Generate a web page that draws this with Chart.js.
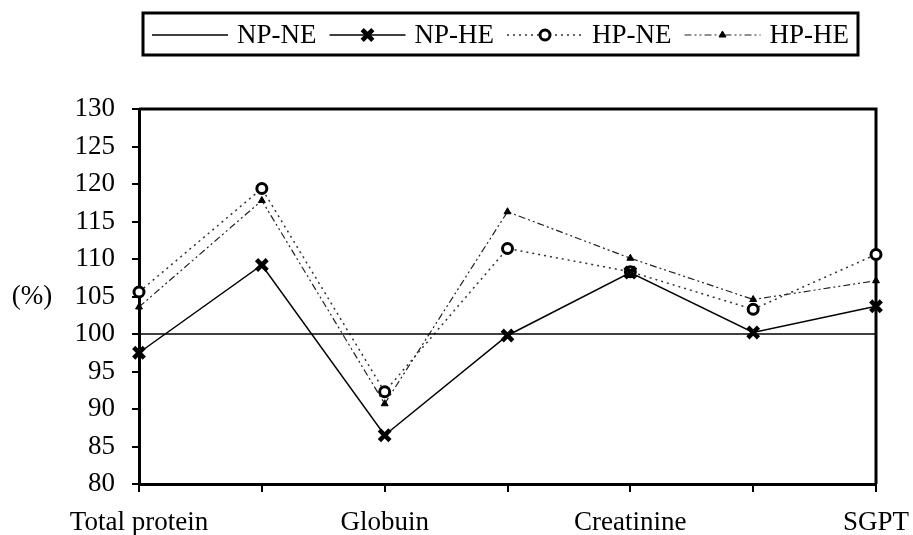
<!DOCTYPE html>
<html><head><meta charset="utf-8">
<script src="https://cdn.jsdelivr.net/npm/chart.js@4.4.1/dist/chart.umd.min.js"></script>
<style>html,body{margin:0;padding:0;background:#fff}#wrap{width:913px;height:535px}</style>
</head><body><div id="wrap"><canvas id="c" width="913" height="535"></canvas></div>
<script>
const categories = ['Total protein', '', 'Globuin', '', 'Creatinine', '', 'SGPT'];
const seriesNames = ['NP-NE', 'NP-HE', 'HP-NE', 'HP-HE'];
const npNe = [100, 100, 100, 100, 100, 100, 100];
const npHe = [97.5, 109.2, 86.5, 99.8, 108.2, 100.2, 103.7];
const hpNe = [105.6, 119.4, 92.3, 111.4, 108.3, 103.3, 110.6];
const hpHe = [103.6, 117.8, 90.7, 116.3, 110.1, 104.6, 107.1];
const yMin = 80, yMax = 130, yStep = 5;
const yAxisLabel = '(%)';

const FONT = 'Liberation Serif, Times New Roman, serif';
const styles = [
  {color:'#000', width:1.5, dash:[], point:false},
  {color:'#000', width:1.5, dash:[], point:'crossRot', r:7.5, pbw:4.5, pbg:'#000'},
  {color:'#333', width:1.5, dash:[2,4], point:'circle', r:5, pbw:3, pbg:'#fff'},
  {color:'#222', width:1.2, dash:[7,3,2,3,2,3], point:'triangle', r:4, pbw:1, pbg:'#000'}
];
const values = [npNe, npHe, hpNe, hpHe];

const datasets = values.map((v, i) => {
  const s = styles[i];
  return {
    label: seriesNames[i], data: v, borderColor: s.color, borderWidth: s.width,
    borderDash: s.dash, tension: 0, fill: false, clip: false,
    pointRadius: s.point ? s.r : 0, pointStyle: s.point || 'circle',
    pointBorderWidth: s.pbw || 0, pointBorderColor: '#000', pointBackgroundColor: s.pbg || '#000',
    pointHoverRadius: s.point ? s.r : 0
  };
});

function drawMarker(ctx, s, x, y) {
  ctx.save();
  ctx.setLineDash([]);
  ctx.strokeStyle = '#000'; ctx.fillStyle = s.pbg; ctx.lineWidth = s.pbw;
  if (s.point === 'crossRot') {
    const d = s.r * Math.SQRT1_2;
    ctx.beginPath(); ctx.moveTo(x-d, y-d); ctx.lineTo(x+d, y+d); ctx.moveTo(x+d, y-d); ctx.lineTo(x-d, y+d); ctx.stroke();
  } else if (s.point === 'circle') {
    ctx.beginPath(); ctx.arc(x, y, s.r, 0, Math.PI*2); ctx.fill(); ctx.stroke();
  } else if (s.point === 'triangle') {
    const r = s.r;
    ctx.beginPath(); ctx.moveTo(x, y - r); ctx.lineTo(x + r*0.866, y + r*0.5); ctx.lineTo(x - r*0.866, y + r*0.5); ctx.closePath(); ctx.fill(); ctx.stroke();
  }
  ctx.restore();
}

const extras = {
  id: 'extras',
  beforeDatasetsDraw(chart) {
    const {ctx, chartArea: a} = chart;
    ctx.save();
    ctx.strokeStyle = '#000'; ctx.lineWidth = 3;
    ctx.beginPath(); ctx.moveTo(a.left, a.top); ctx.lineTo(a.right, a.top); ctx.lineTo(a.right, a.bottom); ctx.stroke();
    ctx.fillStyle = '#000'; ctx.font = '27px ' + FONT; ctx.textAlign = 'center'; ctx.textBaseline = 'middle';
    ctx.fillText(yAxisLabel, 32, 297);
    ctx.restore();
  },
  afterDraw(chart) {
    const ctx = chart.ctx;
    ctx.save();
    ctx.font = '27px ' + FONT; ctx.textBaseline = 'middle'; ctx.fillStyle = '#000';
    const cy = 35, sampleW = 76, gap = 9, itemGap = 13;
    let x = 152;
    seriesNames.forEach((name, i) => {
      const s = styles[i];
      ctx.save();
      ctx.strokeStyle = s.color; ctx.lineWidth = s.width; ctx.setLineDash(s.dash);
      ctx.beginPath(); ctx.moveTo(x, cy); ctx.lineTo(x + sampleW, cy); ctx.stroke();
      ctx.restore();
      if (s.point) drawMarker(ctx, s, x + sampleW/2, cy);
      x += sampleW + gap;
      ctx.textAlign = 'left';
      ctx.fillText(name, x, cy + 1);
      x += ctx.measureText(name).width + itemGap;
    });
    ctx.lineWidth = 3; ctx.strokeStyle = '#000'; ctx.setLineDash([]);
    ctx.strokeRect(143, 13, 715, 42);
    ctx.restore();
  }
};

new Chart(document.getElementById('c'), {
  type: 'line',
  data: {labels: categories, datasets},
  options: {
    responsive: false, animation: false, devicePixelRatio: 1,
    layout: {padding: {top: 109, right: 37, left: 0, bottom: 0}},
    plugins: {legend: {display: false}, tooltip: {enabled: false}},
    scales: {
      x: {
        offset: false,
        grid: {display: true, drawOnChartArea: false, drawTicks: true, tickLength: 8, color: '#000', lineWidth: 2},
        border: {display: true, color: '#000', width: 3},
        ticks: {autoSkip: false, maxRotation: 0, padding: 15, color: '#000', font: {family: FONT, size: 27}},
        afterFit(s) { s.height = 51; s.paddingLeft = 0; s.paddingRight = 0; }
      },
      y: {
        min: yMin, max: yMax,
        grid: {display: true, drawOnChartArea: false, drawTicks: true, tickLength: 7, color: '#000', lineWidth: 2},
        border: {display: true, color: '#000', width: 3},
        ticks: {stepSize: yStep, padding: 17, color: '#000', font: {family: FONT, size: 27}},
        afterFit(s) { s.width = 139; s.paddingTop = 0; s.paddingBottom = 0; }
      }
    }
  },
  plugins: [extras]
});
</script></body></html>
